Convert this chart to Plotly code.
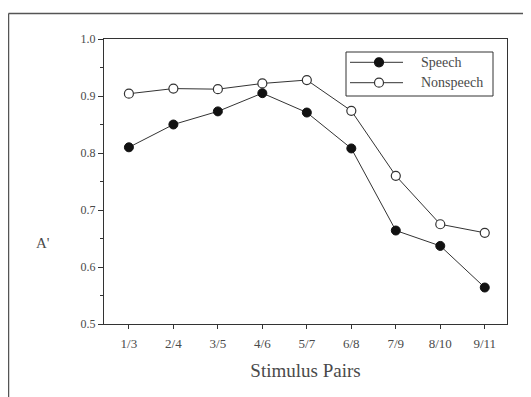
import plotly.graph_objects as go

categories = ["1/3", "2/4", "3/5", "4/6", "5/7", "6/8", "7/9", "8/10", "9/11"]
speech = [0.810, 0.850, 0.873, 0.905, 0.871, 0.808, 0.664, 0.637, 0.564]
nonspeech = [0.904, 0.913, 0.912, 0.922, 0.928, 0.874, 0.760, 0.675, 0.660]
y_ticks = [0.5, 0.6, 0.7, 0.8, 0.9, 1.0]
y_tick_labels = ["0.5", "0.6", "0.7", "0.8", "0.9", "1.0"]
series_names = ["Speech", "Nonspeech"]

FONT = "Liberation Serif"
INK = "#333333"
TXT = "#4a4a4a"

# plot area in page pixels (page has an 8px body margin)
PL, PT, PW, PH = 104, 39, 403, 285


def px(xs):
    return (xs - PL) / PW


def py(ys):
    return (PT + PH - ys) / PH


idx = list(range(len(categories)))

fig = go.Figure()
fig.add_trace(go.Scatter(
    x=idx, y=speech, name=series_names[0], mode="lines+markers",
    line=dict(color=INK, width=1),
    marker=dict(symbol="circle", size=9, color="#111111", line=dict(color="#111111", width=1)),
))
fig.add_trace(go.Scatter(
    x=idx, y=nonspeech, name=series_names[1], mode="lines+markers",
    line=dict(color=INK, width=1),
    marker=dict(symbol="circle", size=9, color="white", line=dict(color=INK, width=1.2)),
))

fig.update_layout(
    width=523, height=389,
    margin=dict(l=96, r=24, t=31, b=73),
    paper_bgcolor="white", plot_bgcolor="white",
    font=dict(family=FONT, color=TXT, size=12),
    showlegend=False,
    xaxis=dict(
        range=[-0.56, 8.5], tickmode="array", tickvals=idx, ticktext=categories,
        showgrid=False, zeroline=False, showline=True, linecolor=INK, linewidth=1,
        mirror=True, ticks="outside", ticklen=4, tickcolor=INK,
        ticklabelstandoff=3,
        tickfont=dict(family=FONT, size=13, color=TXT),
        title=dict(text="Stimulus Pairs", font=dict(family=FONT, size=19, color=TXT), standoff=14),
    ),
    yaxis=dict(
        range=[0.5, 1.0], tickmode="array", tickvals=y_ticks, ticktext=y_tick_labels,
        showgrid=False, zeroline=False, showline=True, linecolor=INK, linewidth=1,
        mirror=True, ticks="outside", ticklen=5, tickcolor=INK,
        tickfont=dict(family=FONT, size=12, color=TXT),
        minor=dict(dtick=0.05, ticks="outside", ticklen=3, tickcolor=INK, showgrid=False),
    ),
)

fig.add_annotation(
    text="A'", xref="paper", yref="paper", x=px(43), y=py(243), showarrow=False,
    font=dict(family=FONT, size=15, color=TXT), xanchor="center", yanchor="middle",
)

# manual legend box
fig.add_shape(type="rect", xref="paper", yref="paper",
              x0=px(346), x1=px(493), y0=py(96), y1=py(52),
              line=dict(color=INK, width=1), fillcolor="white")
rows = [62.3, 82.7]
fills = ["#111111", "white"]
for name, ys, fc in zip(series_names, rows, fills):
    fig.add_shape(type="line", xref="paper", yref="paper",
                  x0=px(350), x1=px(403), y0=py(ys), y1=py(ys),
                  line=dict(color=INK, width=1))
    fig.add_shape(type="circle", xref="paper", yref="paper",
                  xsizemode="pixel", ysizemode="pixel",
                  xanchor=px(379), yanchor=py(ys), x0=-4.5, x1=4.5, y0=-4.5, y1=4.5,
                  line=dict(color="#111111" if fc != "white" else INK, width=1.2), fillcolor=fc)
    fig.add_annotation(text=name, xref="paper", yref="paper", x=px(419), y=py(ys),
                       xanchor="left", yanchor="middle", showarrow=False,
                       font=dict(family=FONT, size=14, color=TXT))

# outer frame lines (left, top, faint right)
frame_top = py(13.5)
frame_bot = py(400)
fig.add_shape(type="line", xref="paper", yref="paper",
              x0=px(8.5), x1=px(8.5), y0=frame_top, y1=frame_bot,
              line=dict(color="#555555", width=1.5))
fig.add_shape(type="line", xref="paper", yref="paper",
              x0=px(8.5), x1=px(535), y0=frame_top, y1=frame_top,
              line=dict(color="#555555", width=1.5))
fig.add_shape(type="line", xref="paper", yref="paper",
              x0=px(529.5), x1=px(529.5), y0=frame_top, y1=frame_bot,
              line=dict(color="#dddddd", width=1))

fig.write_html("out.html")
